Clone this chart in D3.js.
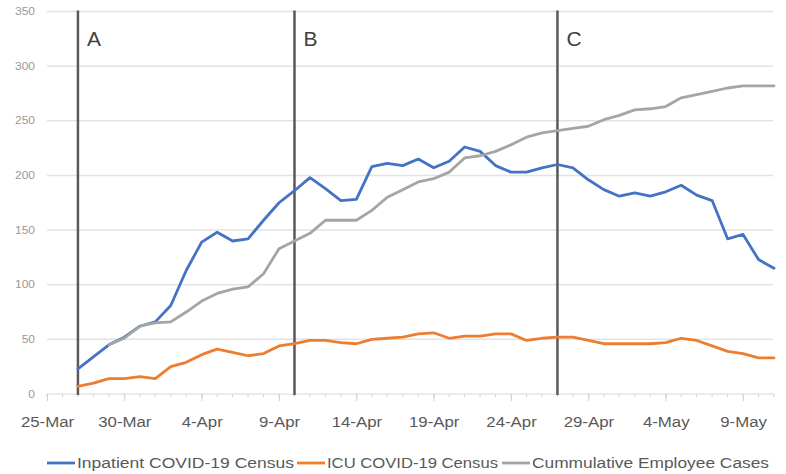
<!DOCTYPE html>
<html>
<head>
<meta charset="utf-8">
<script src="https://cdn.jsdelivr.net/npm/d3@7"></script>
<style>
  html, body { margin: 0; padding: 0; background: #fff; }
  svg { display: block; }
  text { font-family: "Liberation Sans", Arial, sans-serif; }
</style>
</head>
<body>
<svg id="chart" width="786" height="474"></svg>
<script>
// ---- data ----
const seriesNames = ["Inpatient COVID-19 Census", "ICU COVID-19 Census", "Cummulative Employee Cases"];
const seriesColors = ["#4472C4", "#ED7D31", "#A5A5A5"];

const inpatientStart = "2020-03-27";
const inpatient = [23, 34, 45, 52, 62, 66, 81, 113, 139, 148, 140, 142, 159, 175, 186,
  198, 188, 177, 178, 208, 211, 209, 215, 207, 213, 226, 222, 209, 203, 203, 207,
  210, 207, 196, 187, 181, 184, 181, 185, 191, 182, 177, 142, 146, 123, 115];

const icuStart = "2020-03-27";
const icu = [7, 10, 14, 14, 16, 14, 25, 29, 36, 41, 38, 35, 37, 44, 46,
  49, 49, 47, 46, 50, 51, 52, 55, 56, 51, 53, 53, 55, 55, 49, 51,
  52, 52, 49, 46, 46, 46, 46, 47, 51, 49, 44, 39, 37, 33, 33];

const employeeStart = "2020-03-29";
const employee = [45, 51, 62, 65, 66, 75, 85, 92, 96, 98, 110, 133, 140,
  147, 159, 159, 159, 168, 180, 187, 194, 197, 203, 216, 218, 222, 228, 235, 239, 241,
  243, 245, 251, 255, 260, 261, 263, 271, 274, 277, 280, 282, 282, 282];

const markerLabels = ["A", "B", "C"];
const markerDates = ["2020-03-27", "2020-04-10", "2020-04-27"];

const xDomain = ["2020-03-25", "2020-05-11"];
const xTickDates = ["2020-03-25", "2020-03-30", "2020-04-04", "2020-04-09", "2020-04-14",
  "2020-04-19", "2020-04-24", "2020-04-29", "2020-05-04", "2020-05-09"];
const xTickLabels = ["25-Mar", "30-Mar", "4-Apr", "9-Apr", "14-Apr", "19-Apr", "24-Apr", "29-Apr", "4-May", "9-May"];
const yTicks = [0, 50, 100, 150, 200, 250, 300, 350];

// ---- setup ----
(function () {
const parse = d3.timeParse("%Y-%m-%d");
const svg = d3.select("#chart");
const pLeft = 47, pRight = 774, pTop = 11.5, pBottom = 394;
const stretch = 1.2;

const x = d3.scaleTime().domain(xDomain.map(parse)).range([pLeft, pRight]);
const y = d3.scaleLinear().domain([0, 350]).range([pBottom, pTop]);

function toSeries(start, vals) {
  const s = parse(start);
  return vals.map((v, i) => ({ date: d3.timeDay.offset(s, i), value: v }));
}
const allSeries = [
  toSeries(inpatientStart, inpatient),
  toSeries(icuStart, icu),
  toSeries(employeeStart, employee)
];

function stretchText(sel, factor) {
  sel.each(function () {
    const w = this.getComputedTextLength();
    d3.select(this).attr("textLength", w * factor).attr("lengthAdjust", "spacingAndGlyphs");
  });
}

// gridlines
svg.append("g")
  .selectAll("line")
  .data(yTicks.filter(t => t > 0))
  .join("line")
  .attr("x1", pLeft).attr("x2", pRight - 1)
  .attr("y1", d => y(d)).attr("y2", d => y(d))
  .attr("stroke", "#e3e3e3").attr("stroke-width", 1.5);

// y axis labels
const yAxis = d3.axisLeft(y).tickValues(yTicks).tickSize(0).tickPadding(12);
const yg = svg.append("g").attr("transform", `translate(${pLeft},0)`).call(yAxis);
yg.select(".domain").remove();
yg.selectAll("text").attr("font-size", 10).attr("fill", "#999999")
  .attr("font-family", "'Liberation Sans', Arial, sans-serif");
stretchText(yg.selectAll("text"), stretch);

// x axis line with minor & major ticks
const allDays = d3.timeDay.range(parse(xDomain[0]), d3.timeDay.offset(parse(xDomain[1]), 1));
const xg = svg.append("g");
xg.append("line").attr("x1", pLeft).attr("x2", pRight).attr("y1", pBottom).attr("y2", pBottom)
  .attr("stroke", "#d9d9d9").attr("stroke-width", 1.2);
xg.selectAll("line.minor").data(allDays).join("line").attr("class", "minor")
  .attr("x1", d => x(d)).attr("x2", d => x(d))
  .attr("y1", pBottom).attr("y2", pBottom + 3)
  .attr("stroke", "#d0d0d0").attr("stroke-width", 1);

const xAxis = d3.axisBottom(x)
  .tickValues(xTickDates.map(parse))
  .tickFormat((d, i) => xTickLabels[i])
  .tickSize(7).tickPadding(16);
const xa = svg.append("g").attr("transform", `translate(0,${pBottom})`).call(xAxis);
xa.select(".domain").remove();
xa.selectAll(".tick line").attr("stroke", "#d0d0d0").attr("stroke-width", 1);
xa.selectAll("text").attr("font-size", 14).attr("fill", "#595959")
  .attr("font-family", "'Liberation Sans', Arial, sans-serif");
stretchText(xa.selectAll("text"), stretch);

// marker lines
const mk = svg.append("g");
markerDates.forEach((d, i) => {
  const xm = x(parse(d));
  mk.append("line").attr("x1", xm).attr("x2", xm).attr("y1", pTop - 1).attr("y2", pBottom + 1)
    .attr("stroke", "#595959").attr("stroke-width", 2.5);
  mk.append("text").attr("x", xm + 9).attr("y", 46)
    .attr("font-size", 21).attr("fill", "#404040").text(markerLabels[i]);
});

// lines
const line = d3.line().x(d => x(d.date)).y(d => y(d.value));
svg.append("g").selectAll("path")
  .data(allSeries)
  .join("path")
  .attr("d", line)
  .attr("fill", "none")
  .attr("stroke", (d, i) => seriesColors[i])
  .attr("stroke-width", 2.8)
  .attr("stroke-linejoin", "round")
  .attr("stroke-linecap", "round");

// legend
const legendX = [47, 297, 502];
const legendTextW = [217, 171, 237];
const lg = svg.append("g").attr("transform", "translate(0,463)");
seriesNames.forEach((name, i) => {
  lg.append("line").attr("x1", legendX[i]).attr("x2", legendX[i] + 28)
    .attr("y1", 0).attr("y2", 0)
    .attr("stroke", seriesColors[i]).attr("stroke-width", 2.8);
  lg.append("text").attr("x", legendX[i] + 30).attr("y", 5)
    .attr("font-size", 14).attr("fill", "#595959")
    .attr("textLength", legendTextW[i]).attr("lengthAdjust", "spacingAndGlyphs")
    .text(name);
});
})();
</script>
</body>
</html>
